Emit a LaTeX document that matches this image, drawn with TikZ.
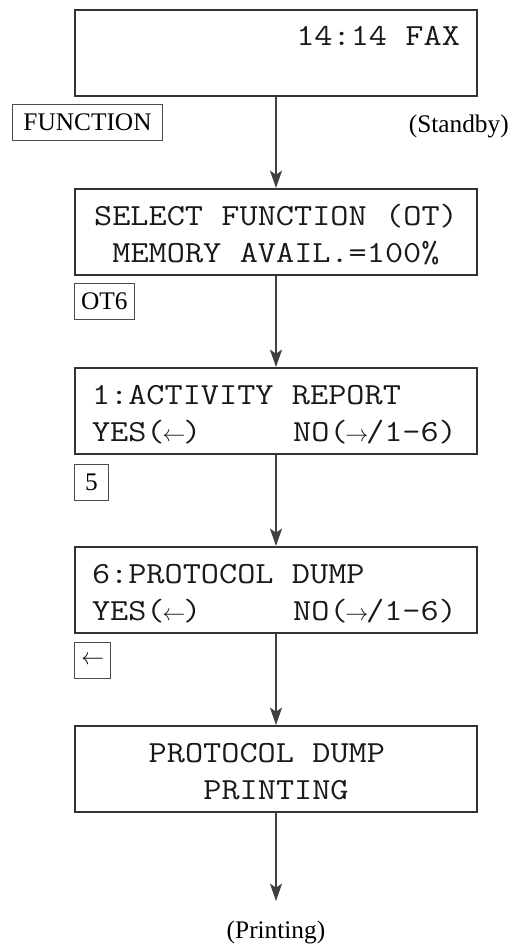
\documentclass[tikz,border=0pt]{standalone}
\usepackage{fontspec}
\setmainfont{Liberation Serif}
\newfontfamily\lcdface{Latin Modern Mono}[FakeStretch=1.15]
\usetikzlibrary{arrows.meta, positioning}

% one fixed-width blank of the display, and an arrow cell
\newcommand{\lcdsp}{\hspace*{0.6em}}
\newcommand{\lcdarr}[1]{\makebox[0.6em]{\fontsize{17}{17}\selectfont$#1$}}

\begin{document}
\begin{tikzpicture}[
  x=0.75pt, y=-0.75pt,
  node distance=68.25pt,
  panel/.style={rectangle, draw=black!80, line width=1.2pt, minimum width=301.8pt, minimum height=64.8pt, text width=276pt, inner xsep=12pt, text height=21pt, text depth=31.5pt, font=\fontsize{23}{27.75}\selectfont\lcdface, text=black!90},
  key/.style={rectangle, draw=black!70, line width=0.8pt, minimum width=25.5pt, minimum height=27pt, inner xsep=5pt, inner ysep=0pt, font=\fontsize{19}{22}\selectfont},
  lbl/.style={inner sep=0pt, font=\fontsize{19}{22}\selectfont},
  arrow/.style={-{Stealth[length=13pt, width=9pt, inset=3pt]}, line width=1.6pt, black!75},
]
  \useasboundingbox (0,0) rectangle (529,945);

  \node[panel, align=right] (lcd1) at (276,53) {14:14\lcdsp FAX\\\mbox{}};
  \node[panel, align=center, below=of lcd1] (lcd2) {SELECT\lcdsp FUNCTION\lcdsp(OT)\\MEMORY\lcdsp AVAIL.=100\%};
  \node[panel, align=left, below=of lcd2] (lcd3) {1:ACTIVITY\lcdsp REPORT\\YES(\lcdarr{\leftarrow})\lcdsp\lcdsp\lcdsp\lcdsp\lcdsp NO(\lcdarr{\rightarrow}/1-6)};
  \node[panel, align=left, below=of lcd3] (lcd4) {6:PROTOCOL\lcdsp DUMP\\YES(\lcdarr{\leftarrow})\lcdsp\lcdsp\lcdsp\lcdsp\lcdsp NO(\lcdarr{\rightarrow}/1-6)};
  \node[panel, align=center, below=of lcd4] (lcd5) {PROTOCOL\lcdsp DUMP\hphantom{X}\\PRINTING};

  \draw[arrow] (lcd1) -- (lcd2);
  \draw[arrow] (lcd2) -- (lcd3);
  \draw[arrow] (lcd3) -- (lcd4);
  \draw[arrow] (lcd4) -- (lcd5);

  \node[key, minimum width=112.5pt, below right=5.25pt and -46.5pt of lcd1.south west] (kfunc) {FUNCTION};
  \node[key, below right=5.25pt and 0pt of lcd2.south west] (kot6) {OT6};
  \node[key, below right=6.5pt and 0pt of lcd3.south west] (kfive) {5};
  \node[key, below right=6pt and 0pt of lcd4.south west] (kleft) {$\leftarrow$};

  \node[lbl, below left=13.5pt and -23.25pt of lcd1.south east] (standby) {(Standby)};
  \node[lbl, below=81pt of lcd5] (printing) {(Printing)};
  \draw[arrow, shorten >=15pt] (lcd5) -- (printing);
\end{tikzpicture}
\end{document}
